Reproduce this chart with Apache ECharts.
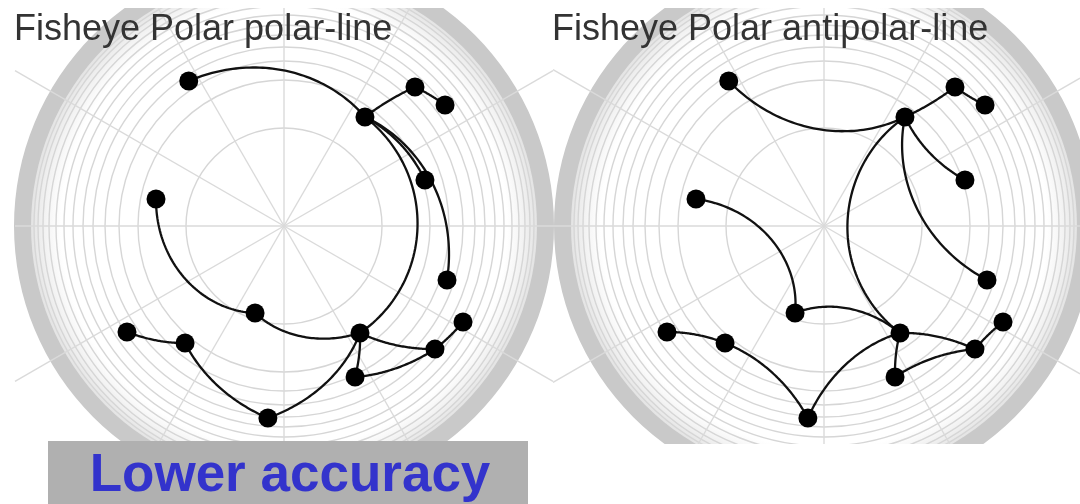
<!DOCTYPE html>
<html><head><meta charset="utf-8">
<script src="https://cdn.jsdelivr.net/npm/echarts@6/dist/echarts.min.js"></script>
<style>html,body{margin:0;padding:0;background:#fff}#c{width:1080px;height:504px}</style>
</head><body><div id="c"></div>
<script>
// ---------------- data ----------------
const nodeNames  = ['A','B','C','D','E','F','G','H','I','J','K','L','M','N','O'];
const nodeRadius = [173.5, 135.8, 191.0, 201.4, 148.3, 130.8, 171.7, 91.7, 131.2, 189.4, 153.3, 203.1, 194.8, 166.9, 192.7];
const nodeAngle  = [123.3, 53.4, 46.7, 36.9, 18.1, 168.1, 341.7, 251.6, 305.4, 214.0, 229.8, 331.8, 320.8, 295.2, 265.2];
const linkSource = ['A','B','C','B','B','B','F','H','I','M','I','N','I','O','K'];
const linkTarget = ['B','C','D','E','G','I','H','I','M','L','N','M','O','K','J'];
const ringRadii  = [98, 146, 165, 179, 191, 201, 211, 220, 228, 235, 241, 246, 250];
const spokeAngles = [0, 30, 60, 90, 120, 150, 180, 210, 240, 270, 300, 330];
const panelTitles = ['Fisheye Polar polar-line', 'Fisheye Polar antipolar-line'];
const panelModes  = ['polar', 'antipolar'];
const noteText = 'Lower accuracy';

// ---------------- layout ----------------
const RMAX = 270;
const BAND_INNER = 253;
const panels = [
  {center: [284, 226], rect: [15, 8, 553, 444], titleX: 14},
  {center: [824, 226], rect: [553, 8, 1080, 444], titleX: 552}
];

const chart = echarts.init(document.getElementById('c'), null, {renderer: 'canvas'});

const idx = {};
nodeNames.forEach((n, i) => idx[n] = i);
const nodeData = nodeNames.map((n, i) => [nodeRadius[i], nodeAngle[i]]);
const linkData = linkSource.map((s, i) => {
  const a = idx[s], b = idx[linkTarget[i]];
  return [nodeRadius[a], nodeAngle[a], nodeRadius[b], nodeAngle[b]];
});

function centerOf(api) { return api.coord([0, 0]); }
function pxRadius(api, r) {
  const c = api.coord([0, 0]), p = api.coord([r, 0]);
  return Math.hypot(p[0] - c[0], p[1] - c[1]);
}

const polar = [], angleAxis = [], radiusAxis = [], series = [], titles = [];
panels.forEach((pn, k) => {
  polar.push({center: pn.center, radius: RMAX});
  angleAxis.push({polarIndex: k, type: 'value', min: 0, max: 360, startAngle: 0, clockwise: false,
    axisLine: {show: false}, axisTick: {show: false}, axisLabel: {show: false}, splitLine: {show: false}});
  radiusAxis.push({polarIndex: k, type: 'value', min: 0, max: RMAX,
    axisLine: {show: false}, axisTick: {show: false}, axisLabel: {show: false}, splitLine: {show: false}});

  // outer dense band (soft gradient + solid rim)
  series.push({
    type: 'custom', coordinateSystem: 'polar', polarIndex: k, silent: true, z: 1,
    data: [[BAND_INNER, 0]],
    renderItem: function (params, api) {
      const c = centerOf(api);
      const r0 = pxRadius(api, api.value(0));
      const r1 = pxRadius(api, RMAX);
      return {type: 'group', children: [
        {type: 'ring', shape: {cx: c[0], cy: c[1], r: r0 + 2, r0: r0 - 30},
         style: {fill: new echarts.graphic.RadialGradient(c[0], c[1], r0 + 2, [
           {offset: 0, color: 'rgba(235,235,235,0)'},
           {offset: (r0 - 30) / (r0 + 2), color: 'rgba(235,235,235,0)'},
           {offset: 1, color: 'rgba(225,225,225,1)'}], true)}},
        {type: 'ring', shape: {cx: c[0], cy: c[1], r: r1, r0: r0},
         style: {fill: '#c9c9c9'}}
      ]};
    }
  });
  // rings
  series.push({
    type: 'custom', coordinateSystem: 'polar', polarIndex: k, silent: true, z: 2,
    data: ringRadii.map(r => [r, 0]),
    renderItem: function (params, api) {
      const c = centerOf(api);
      return {type: 'circle', shape: {cx: c[0], cy: c[1], r: pxRadius(api, api.value(0))},
        style: {fill: null, stroke: '#d6d6d6', lineWidth: 1.4}};
    }
  });
  // spokes, extended to the panel frame
  series.push({
    type: 'custom', coordinateSystem: 'polar', polarIndex: k, silent: true, z: 3,
    data: spokeAngles.map(a => [RMAX, a]),
    renderItem: function (params, api) {
      const c = centerOf(api);
      const p = api.coord([api.value(0), api.value(1)]);
      const dx = p[0] - c[0], dy = p[1] - c[1];
      const [x0, y0, x1, y1] = pn.rect;
      let t = Infinity;
      if (dx > 1e-9) t = Math.min(t, (x1 - c[0]) / dx);
      if (dx < -1e-9) t = Math.min(t, (x0 - c[0]) / dx);
      if (dy > 1e-9) t = Math.min(t, (y1 - c[1]) / dy);
      if (dy < -1e-9) t = Math.min(t, (y0 - c[1]) / dy);
      return {type: 'line', shape: {x1: c[0], y1: c[1], x2: c[0] + dx * t, y2: c[1] + dy * t},
        style: {stroke: '#dadada', lineWidth: 1.4}};
    }
  });
  // links
  const mode = panelModes[k];
  series.push({
    type: 'custom', coordinateSystem: 'polar', polarIndex: k, silent: true, z: 5,
    dimensions: ['r1', 'a1', 'r2', 'a2'],
    encode: {radius: 0, angle: 1},
    data: linkData,
    renderItem: function (params, api) {
      const r1 = api.value(0), a1 = api.value(1), r2 = api.value(2), a2 = api.value(3);
      const da = ((a2 - a1) % 360 + 540) % 360 - 180;
      const N = 60, pts = [];
      for (let i = 0; i <= N; i++) {
        const t = i / N;
        pts.push(api.coord([r1 + (r2 - r1) * t, a1 + da * t]));
      }
      if (mode === 'antipolar') {
        const p0 = pts[0], p1 = pts[N];
        const ux = p1[0] - p0[0], uy = p1[1] - p0[1];
        const L2 = ux * ux + uy * uy || 1;
        for (let i = 0; i <= N; i++) {
          const vx = pts[i][0] - p0[0], vy = pts[i][1] - p0[1];
          const s = (vx * ux + vy * uy) / L2;
          const fx = p0[0] + ux * s, fy = p0[1] + uy * s;
          pts[i] = [2 * fx - pts[i][0], 2 * fy - pts[i][1]];
        }
      }
      return {type: 'polyline', shape: {points: pts},
        style: {fill: null, stroke: '#111', lineWidth: 2.3}};
    }
  });
  // nodes
  series.push({
    type: 'scatter', coordinateSystem: 'polar', polarIndex: k, silent: true, z: 6,
    symbol: 'circle', symbolSize: 19, itemStyle: {color: '#000', opacity: 1},
    data: nodeData
  });
  titles.push({text: panelTitles[k], left: pn.titleX, top: 12, padding: 0, z: 20,
    textStyle: {fontFamily: 'Liberation Sans, Arial, sans-serif', fontSize: 36, fontWeight: 'normal', color: '#333'}});
});

const option = {
  backgroundColor: '#fff',
  animation: false,
  title: titles,
  polar: polar,
  angleAxis: angleAxis,
  radiusAxis: radiusAxis,
  series: series,
  graphic: [
    {type: 'rect', z: 10, shape: {x: 0, y: 0, width: 1080, height: 8}, style: {fill: '#fff'}},
    {type: 'rect', z: 10, shape: {x: 0, y: 0, width: 14, height: 504}, style: {fill: '#fff'}},
    {type: 'rect', z: 10, shape: {x: 0, y: 444, width: 1080, height: 60}, style: {fill: '#fff'}},
    {type: 'rect', z: 11, shape: {x: 48, y: 441, width: 480, height: 63}, style: {fill: '#b0b0b0'}},
    {type: 'text', z: 12, x: 290, y: 476,
     style: {text: noteText, fill: '#3333cc', font: 'bold 53px "Liberation Sans", Arial, sans-serif',
       textAlign: 'center', textVerticalAlign: 'middle'}}
  ]
};
chart.setOption(option);
</script>
</body></html>
